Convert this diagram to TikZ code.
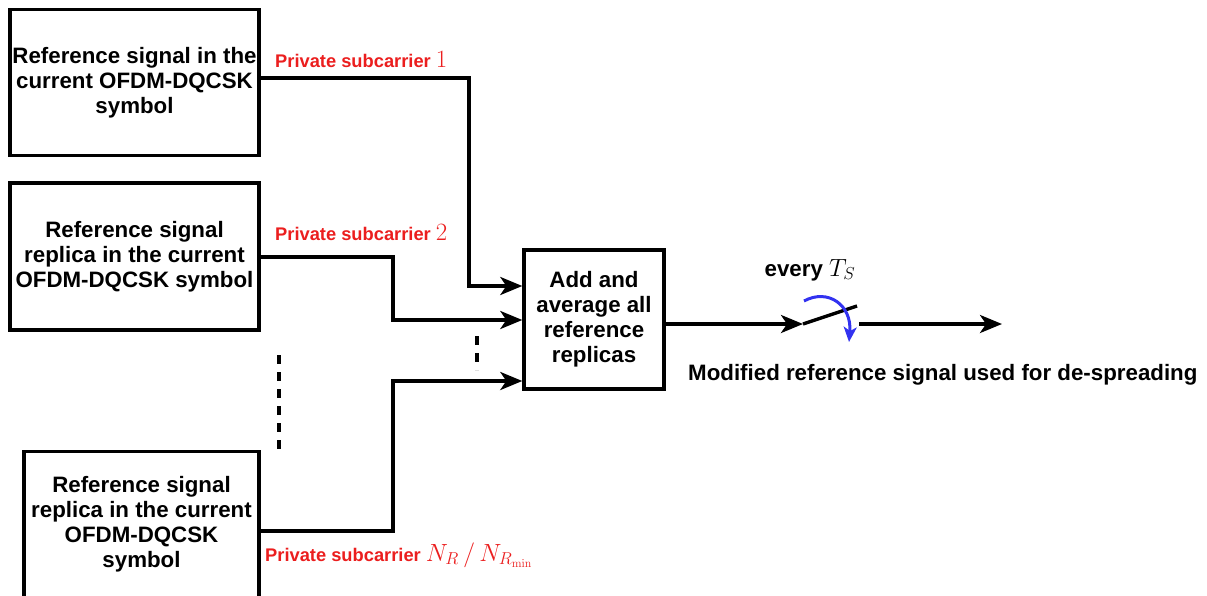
\documentclass[tikz,border=0pt]{standalone}
\usepackage[no-math]{fontspec}
\setmainfont{Liberation Sans}
\usetikzlibrary{arrows.meta}
\definecolor{lblred}{RGB}{235,30,30}
\definecolor{arcblue}{RGB}{50,50,240}
\begin{document}
\begin{tikzpicture}[x=1pt,y=-1pt,
  blk/.style={draw,line width=3.4pt,align=center,inner sep=0pt,
    font=\fontsize{22.3}{25}\selectfont\bfseries},
  conn/.style={line width=3.4pt,-{Stealth[length=22pt,width=18pt,inset=6pt]}},
  plain/.style={line width=3.4pt},
  lbl/.style={text=lblred,anchor=west,inner sep=0pt,font=\fontsize{18.3}{20}\selectfont\bfseries},
  dots/.style={line width=3.4pt,dash pattern=on 9pt off 8pt},
  txt/.style={inner sep=0pt,font=\fontsize{22.3}{25}\selectfont\bfseries}]
\useasboundingbox (0,0) rectangle (1207,596);
\node[blk,minimum width=249pt,minimum height=146pt] (b1) at (134.5,82.5)
  {Reference signal in the\\current OFDM-DQCSK\\symbol};
\node[blk,minimum width=249pt,minimum height=147pt] (b2) at (134.5,256.5)
  {Reference signal\\replica in the current\\OFDM-DQCSK symbol};
\node[blk,minimum width=235pt,minimum height=146pt] (b3) at (141.5,524.5)
  {Reference signal\\replica in the current\\OFDM-DQCSK\\symbol};
\node[blk,minimum width=140pt,minimum height=139pt] (avg) at (594,319.5)
  {Add and\\average all\\reference\\replicas};
\node[lbl] (l1) at (275,60) {Private subcarrier {\fontsize{23}{23}\selectfont$1$}};
\node[lbl] (l2) at (275,233) {Private subcarrier {\fontsize{23}{23}\selectfont$2$}};
\node[lbl] (l3) at (265,555) {Private subcarrier {\fontsize{23}{23}\selectfont$N_R\,/\,N_{R_{\min}}$}};
\draw[conn] (b1.east |- 0,78) -| (469,286) -- (avg.west |- 0,286);
\draw[conn] (b2.east |- 0,257) -| (393,320) -- (avg.west |- 0,320);
\draw[conn] (b3.east |- 0,531) -| (393,381) -- (avg.west |- 0,381);
\draw[dots] (279,355) -- (279,455);
\draw[dots] (477,336) -- (477,370);
\coordinate (sw1) at (803,324);
\coordinate (sw2) at (857,306);
\coordinate (sw3) at (859,324);
\coordinate (out) at (1002,324);
\draw[conn] (avg.east |- 0,324) -- (sw1);
\draw[plain] (sw1) -- (sw2);
\draw[conn] (sw3) -- (out);
\draw[line width=3pt,arcblue,-{Stealth[length=15pt,width=13pt,inset=4pt]}]
  (804,301) .. controls (828,288) and (852,305) .. (849,342);
\node[txt] (ev) at (810,270) {every {\fontsize{26}{26}\selectfont$T_S$}};
\node[txt,anchor=west] (mod) at (688,375) {Modified reference signal used for de-spreading};
\end{tikzpicture}
\end{document}
